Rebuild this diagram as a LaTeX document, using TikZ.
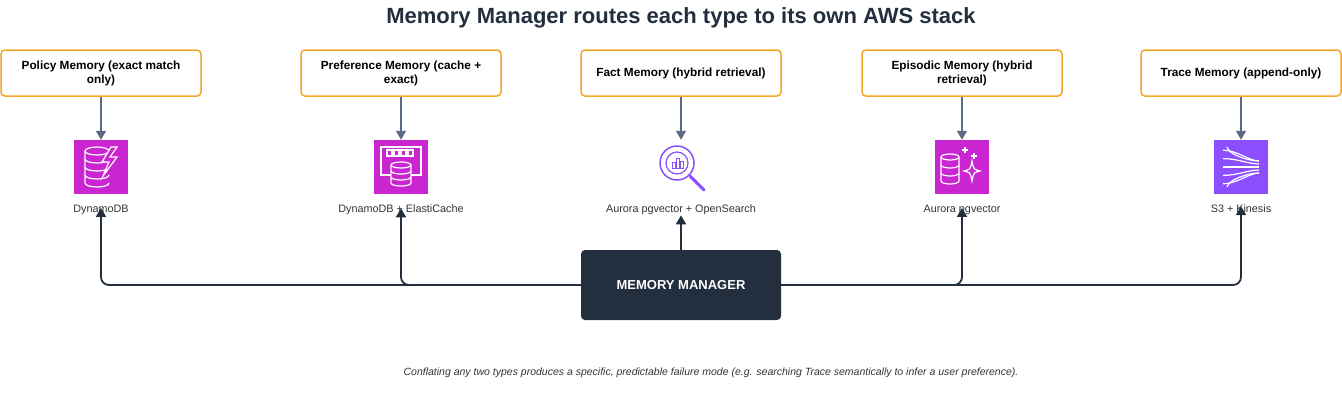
\documentclass[tikz,border=0pt]{standalone}
\usepackage{fontspec}
\setmainfont{Liberation Sans}
\usetikzlibrary{positioning,arrows.meta}
\definecolor{awsorange}{HTML}{F5A623}
\definecolor{awsnavy}{HTML}{232F3E}
\definecolor{awsgray}{HTML}{5A6B86}
\definecolor{awsmagenta}{HTML}{C925D1}
\definecolor{awspurple}{HTML}{8C4FFF}
\definecolor{textgray}{HTML}{333333}
\tikzset{
  memtype/.style={draw=awsorange,line width=1.5pt,rounded corners=4pt,fill=white,minimum width=200pt,minimum height=46pt,text width=176pt,align=flush center,font=\fontsize{11.8}{14}\selectfont\bfseries,execute at begin node={\hyphenpenalty=10000}},
  svc/.style={minimum size=54pt,inner sep=0pt,fill=#1},
  svclabel/.style={font=\fontsize{10.8}{13}\selectfont,text=textgray},
  feed/.style={draw=awsgray,line width=1.5pt,-{Triangle[width=10pt,length=9pt]}},
  route/.style={draw=awsnavy,line width=1.8pt,rounded corners=8pt,-{Triangle[width=10pt,length=9pt]}},
  glyph/.style={draw=white,line width=1.2pt}
}
\begin{document}
\begin{tikzpicture}[x=1pt,y=-1pt]
	\useasboundingbox (0,0) rectangle (1342,400);
	\node[font=\fontsize{22}{26}\selectfont\bfseries,text=awsnavy] (title) at (681,18) {Memory Manager routes each type to its own AWS stack};

	% memory types
	\node[memtype] (policy) at (101,73) {Policy Memory (exact match only)};
	\node[memtype] (pref) at (401,73) {Preference Memory (cache + exact)};
	\node[memtype] (fact) at (681,73) {Fact Memory (hybrid retrieval)};
	\node[memtype] (epi) at (962,73) {Episodic Memory (hybrid retrieval)};
	\node[memtype] (trace) at (1241,73) {Trace Memory (append-only)};

	% service icons
	\node[svc=awsmagenta] (ddb) at (101,167) {};
	\node[svc=awsmagenta] (cache) at (401,167) {};
	\node[svc=white] (search) at (681,167) {};
	\node[svc=awsmagenta] (aurora) at (962,167) {};
	\node[svc=awspurple] (kin) at (1241,167) {};

	% dynamodb glyph
	\draw[glyph] (ddb.center)++(-4,-16) ellipse[x radius=12,y radius=4];
	\foreach \y in {-8,0,8,16} \draw[glyph] (ddb.center)++(-16,\y-8) -- ++(0,8) arc[start angle=180,end angle=360,x radius=12,y radius=-4];
	\draw[glyph,fill=awsmagenta] (ddb.center)++(10,-20) -- ++(-9,15) -- ++(7,0) -- ++(-6,14) -- ++(14,-19) -- ++(-7,0) -- ++(7,-10) -- cycle;
	% elasticache glyph
	\draw[glyph] (cache.center)++(-20,-20) rectangle ++(40,28);
	\foreach \x in {-14,-7,0,7} \draw[glyph] (cache.center)++(\x,-17) rectangle ++(5,6);
	\draw[glyph,fill=awsmagenta] (cache.center)++(-10,-2) -- ++(0,18) arc[start angle=180,end angle=360,x radius=10,y radius=-3] -- ++(0,-18);
	\draw[glyph,fill=awsmagenta] (cache.center)++(0,-2) ellipse[x radius=10,y radius=3];
	\draw[glyph] (cache.center)++(-10,4) arc[start angle=180,end angle=360,x radius=10,y radius=-3];
	\draw[glyph] (cache.center)++(-10,10) arc[start angle=180,end angle=360,x radius=10,y radius=-3];
	% opensearch glyph
	\draw[awspurple,line width=1.5pt] (search.center)++(-4,-4) circle[radius=17];
	\draw[awspurple,line width=1.2pt] (search.center)++(-4,-4) circle[radius=11];
	\draw[awspurple,line width=3pt,line cap=round] (search.center)++(9,9) -- ++(14,14);
	\draw[awspurple,line width=1pt] (search.center)++(-9,1) rectangle ++(3,-6) ++(1,6) rectangle ++(3,-10) ++(1,10) rectangle ++(3,-7);
	% aurora glyph
	\draw[glyph] (aurora.center)++(-12,-10) ellipse[x radius=9,y radius=3];
	\draw[glyph] (aurora.center)++(-21,-10) -- ++(0,24) arc[start angle=180,end angle=360,x radius=9,y radius=-3] -- ++(0,-24);
	\draw[glyph] (aurora.center)++(-21,-2) arc[start angle=180,end angle=360,x radius=9,y radius=-3];
	\draw[glyph] (aurora.center)++(-21,6) arc[start angle=180,end angle=360,x radius=9,y radius=-3];
	\draw[glyph] (aurora.center)++(10,-6) .. controls ++(2,10) and ++(-6,-2) .. ++(8,10) .. controls ++(-6,2) and ++(2,-10) .. ++(-8,10) .. controls ++(-2,-10) and ++(6,2) .. ++(-8,-10) .. controls ++(6,-2) and ++(-2,10) .. cycle;
	\draw[glyph] (aurora.center)++(3,-20) -- ++(0,6) ++(-3,-3) -- ++(6,0) (aurora.center)++(12,-14) -- ++(0,6) ++(-3,-3) -- ++(6,0);
	% kinesis glyph
	\foreach \s in {-12,-6,0,6,12} \draw[glyph] (kin.center)++(-18,\s*1.4) .. controls ++(14,0) and ++(-10,0) .. ++(36,-\s*0.9);
	\draw[glyph] (kin.center)++(-14,-20) .. controls ++(2,8) and ++(-10,0) .. ++(32,14);
	\draw[glyph] (kin.center)++(-14,20) .. controls ++(2,-8) and ++(-10,0) .. ++(32,-14);

	% service labels
	\node[svclabel,below=7pt of ddb] (ddbl) {DynamoDB};
	\node[svclabel,below=7pt of cache] (cachel) {DynamoDB + ElastiCache};
	\node[svclabel,below=7pt of search] (searchl) {Aurora pgvector + OpenSearch};
	\node[svclabel,below=7pt of aurora] (aural) {Aurora pgvector};
	\node[svclabel,below=7pt of kin] (kinl) {S3 + Kinesis};

	% manager
	\node[fill=awsnavy,rounded corners=4pt,minimum width=200pt,minimum height=70pt,text=white,font=\fontsize{13}{15}\selectfont\bfseries] (mgr) at (681,285) {MEMORY MANAGER};

	\draw[feed] (policy) -- (ddb);
	\draw[feed] (pref) -- (cache);
	\draw[feed] (fact) -- (search);
	\draw[feed] (epi) -- (aurora);
	\draw[feed] (trace) -- (kin);

	\draw[route] (mgr.west) -| ([yshift=10pt]ddbl.south);
	\draw[route] (mgr.west) -| ([yshift=10pt]cachel.south);
	\draw[route] (mgr.north) -- ([yshift=3pt]searchl.south);
	\draw[route] (mgr.east) -| ([yshift=10pt]aural.south);
	\draw[route] (mgr.east) -| ([yshift=10pt]kinl.south);

	\node[font=\fontsize{10.5}{12}\selectfont\itshape,text=textgray] (note) at (711,373) {Conflating any two types produces a specific, predictable failure mode (e.g. searching Trace semantically to infer a user preference).};
\end{tikzpicture}
\end{document}
